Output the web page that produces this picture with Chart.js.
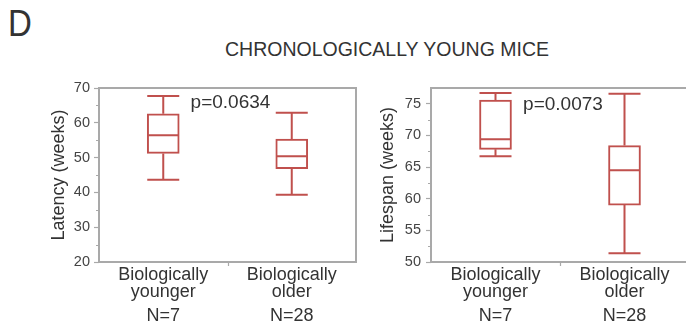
<!DOCTYPE html>
<html lang="en">
<head>
<meta charset="UTF-8" />
<title>Chronologically young mice</title>
<script src="https://cdn.jsdelivr.net/npm/chart.js@4.4.0/dist/chart.umd.min.js"></script>
<style>
  body { margin: 0; width: 686px; height: 325px; overflow: hidden; background: #fff; position: relative;
         font-family: "Liberation Sans", Arial, sans-serif; color: #333; }
  #panel { position: absolute; left: 8px; top: 8px; font-size: 33px; line-height: 1;
           transform: scaleY(1.1); transform-origin: left bottom; }
  #title { position: absolute; left: 225px; top: 40px; font-size: 19.5px; line-height: 1; white-space: nowrap; }
  canvas { position: absolute; top: 0; }
</style>
</head>
<body>
<div id="panel">D</div>
<div id="title">CHRONOLOGICALLY YOUNG MICE</div>
<canvas id="latency" width="372" height="325" style="left:0"></canvas>
<canvas id="lifespan" width="320" height="325" style="left:372px"></canvas>
<script>
const categories = [['Biologically', 'younger'], ['Biologically', 'older']];
const groupSizes = ['N=7', 'N=28'];

// latency (weeks): whisker low, quartiles, median, whisker high
const latencyMin = [43.6, 39.3];
const latencyQ1 = [51.2, 46.8];
const latencyMedian = [56.4, 50.4];
const latencyQ3 = [62.6, 55.3];
const latencyMax = [67.7, 62.9];
const latencyTicks = [20, 30, 40, 50, 60, 70];
const latencyP = 'p=0.0634';

// lifespan (weeks)
const lifespanMin = [66.7, 51.4];
const lifespanQ1 = [67.8, 59.0];
const lifespanMedian = [69.4, 64.5];
const lifespanQ3 = [75.6, 68.4];
const lifespanMax = [76.7, 76.6];
const lifespanTicks = [50, 55, 60, 65, 70, 75];
const lifespanP = 'p=0.0073';

const RED = '#c0504d';
const FRAME = '#a9a9a9';
const BOX_W = 32;
const FONT = '"Liberation Sans", Arial, sans-serif';

function makeChart(id, cfg) {
  const boxPlugin = {
    id: 'boxes',
    afterDatasetsDraw(chart) {
      const { ctx, chartArea, scales: { x, y } } = chart;
      ctx.save();
      // frame
      ctx.strokeStyle = FRAME;
      ctx.lineWidth = 2;
      ctx.strokeRect(chartArea.left, chartArea.top, chartArea.right - chartArea.left, chartArea.bottom - chartArea.top);
      // minor ticks + middle tick on x
      ctx.lineWidth = 1.2;
      ctx.beginPath();
      for (let i = 0; i < cfg.ticks.length - 1; i++) {
        const py = Math.round(y.getPixelForValue((cfg.ticks[i] + cfg.ticks[i + 1]) / 2)) + 0.5;
        ctx.moveTo(chartArea.left - 3, py);
        ctx.lineTo(chartArea.left, py);
      }
      const mx = Math.round(x.getPixelForValue(0.5)) + 0.5;
      ctx.moveTo(mx, chartArea.bottom);
      ctx.lineTo(mx, chartArea.bottom + 4);
      ctx.stroke();
      // whiskers, caps, medians
      ctx.strokeStyle = RED;
      ctx.lineWidth = 2;
      ctx.beginPath();
      cfg.median.forEach((m, i) => {
        const cx = x.getPixelForValue(i);
        const l = cx - BOX_W / 2, r = cx + BOX_W / 2;
        const yMin = y.getPixelForValue(cfg.min[i]);
        const yMax = y.getPixelForValue(cfg.max[i]);
        const yQ1 = y.getPixelForValue(cfg.q1[i]);
        const yQ3 = y.getPixelForValue(cfg.q3[i]);
        const yMed = y.getPixelForValue(m);
        ctx.moveTo(cx, yQ1); ctx.lineTo(cx, yMin);
        ctx.moveTo(cx, yQ3); ctx.lineTo(cx, yMax);
        ctx.moveTo(l, yMin); ctx.lineTo(r, yMin);
        ctx.moveTo(l, yMax); ctx.lineTo(r, yMax);
        ctx.moveTo(l + 1, yMed); ctx.lineTo(r - 1, yMed);
      });
      ctx.stroke();
      // p value
      ctx.fillStyle = '#333';
      ctx.font = '19px ' + FONT;
      ctx.textAlign = 'center';
      ctx.textBaseline = 'alphabetic';
      ctx.fillText(cfg.p, x.getPixelForValue(0.5) + 3, chartArea.top + cfg.pOffset);
      ctx.restore();
    }
  };

  return new Chart(document.getElementById(id), {
    type: 'bar',
    data: {
      labels: categories,
      datasets: [{
        data: cfg.q1.map((v, i) => [v, cfg.q3[i]]),
        backgroundColor: '#fff',
        borderColor: RED,
        borderWidth: 2,
        borderSkipped: false,
        barThickness: BOX_W
      }]
    },
    options: {
      responsive: false,
      animation: false,
      layout: { padding: { top: 88, right: cfg.padRight, left: 0, bottom: 0 } },
      plugins: { legend: { display: false }, tooltip: { enabled: false } },
      scales: {
        x: {
          grid: { display: false, drawTicks: false },
          border: { display: false },
          ticks: { color: '#333', padding: 4.5, maxRotation: 0,
                   font: { family: FONT, size: 18, lineHeight: 0.95 } },
          afterFit(scale) { scale.height = 40; }
        },
        x2: {
          type: 'category',
          position: 'bottom',
          labels: groupSizes,
          offset: true,
          grid: { display: false, drawTicks: false },
          border: { display: false },
          ticks: { color: '#333', padding: 5,
                   font: { family: FONT, size: 18, lineHeight: 1 } },
          afterFit(scale) { scale.height = 23; }
        },
        y: {
          min: cfg.ticks[0],
          max: cfg.yMax,
          afterBuildTicks(scale) { scale.ticks = cfg.ticks.map(v => ({ value: v })); },
          grid: { drawOnChartArea: false, tickLength: 5, tickColor: FRAME, tickWidth: 1.2 },
          border: { display: false },
          ticks: { color: '#444', padding: cfg.tickPad, font: { family: FONT, size: 14.5 } },
          title: { display: true, text: cfg.yTitle, color: '#333', padding: { top: cfg.titlePad, bottom: 0 },
                   font: { family: FONT, size: 18 } },
          afterFit(scale) { scale.width = cfg.yWidth; }
        }
      }
    },
    plugins: [boxPlugin]
  });
}

makeChart('latency', {
  min: latencyMin, q1: latencyQ1, median: latencyMedian, q3: latencyQ3, max: latencyMax,
  ticks: latencyTicks, yMax: 70, p: latencyP, pOffset: 20,
  yTitle: 'Latency (weeks)', titlePad: 48, yWidth: 99, tickPad: 4, padRight: 16
});

makeChart('lifespan', {
  min: lifespanMin, q1: lifespanQ1, median: lifespanMedian, q3: lifespanQ3, max: lifespanMax,
  ticks: lifespanTicks, yMax: 77.5, p: lifespanP, pOffset: 22,
  yTitle: 'Lifespan (weeks)', titlePad: 5.5, yWidth: 59, tickPad: 5, padRight: 3
});
</script>
</body>
</html>
